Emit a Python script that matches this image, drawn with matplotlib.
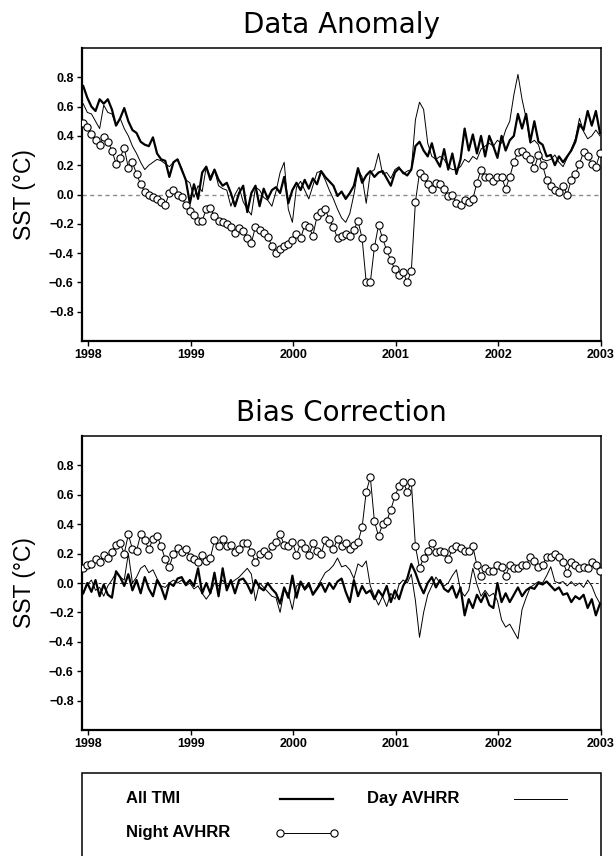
import numpy as np
import matplotlib
matplotlib.use("Agg")
import matplotlib.pyplot as plt
from matplotlib.lines import Line2D
from matplotlib.patches import Rectangle

# samples every 0.04 yr starting at 1997.95 (25 per row = one year)
start_year = 1997.95
step = 0.04

# ---- Data Anomaly panel ----
anom_tmi = (
    [0.74, 0.66, 0.60, 0.57, 0.65, 0.62, 0.65, 0.58, 0.47, 0.52, 0.59, 0.50, 0.44,
     0.42, 0.36, 0.34, 0.33, 0.39, 0.28, 0.24, 0.23, 0.12, 0.22, 0.24, 0.17]
    + [0.10, -0.06, 0.07, -0.03, 0.15, 0.19, 0.10, 0.17, 0.10, 0.06, 0.08, 0.01, -0.08,
       0.01, 0.06, -0.12, 0.01, 0.06, -0.08, 0.04, -0.03, 0.03, 0.05, 0.01, 0.12]
    + [-0.06, 0.03, 0.08, 0.03, 0.10, 0.04, 0.11, 0.07, 0.16, 0.12, 0.09, 0.06, -0.01,
       0.02, -0.03, 0.01, 0.06, 0.18, 0.08, 0.13, 0.16, 0.12, 0.15, 0.16, 0.11]
    + [0.06, 0.15, 0.18, 0.15, 0.13, 0.17, 0.33, 0.36, 0.30, 0.26, 0.35, 0.24, 0.19,
       0.31, 0.17, 0.28, 0.14, 0.24, 0.45, 0.30, 0.41, 0.28, 0.40, 0.26, 0.40]
    + [0.33, 0.25, 0.40, 0.30, 0.37, 0.40, 0.55, 0.45, 0.55, 0.36, 0.50, 0.36, 0.34,
       0.26, 0.27, 0.20, 0.26, 0.22, 0.26, 0.30, 0.36, 0.48, 0.44, 0.57, 0.47]
    + [0.57, 0.42]
)
anom_day = (
    [0.62, 0.56, 0.55, 0.50, 0.45, 0.61, 0.56, 0.55, 0.47, 0.52, 0.45, 0.40, 0.33,
     0.28, 0.22, 0.17, 0.20, 0.22, 0.24, 0.23, 0.21, 0.19, 0.22, 0.24, 0.18]
    + [0.10, 0.08, -0.02, 0.06, 0.02, 0.19, 0.12, 0.17, 0.06, 0.04, 0.03, -0.08, 0.00,
       0.05, -0.05, -0.10, -0.14, 0.05, 0.03, -0.02, -0.04, -0.08, 0.02, 0.15, 0.22]
    + [-0.10, -0.19, 0.05, 0.09, 0.03, -0.03, 0.06, 0.15, 0.16, 0.10, 0.03, -0.03, -0.10,
       -0.16, -0.19, -0.13, 0.00, 0.17, 0.12, -0.06, 0.15, 0.17, 0.28, 0.14, 0.15]
    + [0.11, 0.17, 0.19, 0.14, 0.16, 0.17, 0.51, 0.63, 0.58, 0.35, 0.26, 0.24, 0.26,
       0.24, 0.19, 0.17, 0.17, 0.19, 0.24, 0.22, 0.26, 0.24, 0.31, 0.33, 0.35]
    + [0.33, 0.37, 0.35, 0.44, 0.50, 0.68, 0.82, 0.65, 0.52, 0.35, 0.37, 0.34, 0.24,
       0.23, 0.24, 0.27, 0.22, 0.19, 0.25, 0.31, 0.38, 0.52, 0.43, 0.38, 0.40]
    + [0.44, 0.40]
)
anom_night = (
    [0.49, 0.46, 0.41, 0.37, 0.34, 0.39, 0.36, 0.30, 0.21, 0.25, 0.32, 0.18, 0.22,
     0.14, 0.07, 0.02, 0.00, -0.02, -0.03, -0.05, -0.07, 0.01, 0.03, 0.00, -0.02]
    + [-0.07, -0.11, -0.14, -0.18, -0.18, -0.10, -0.09, -0.15, -0.18, -0.19, -0.20, -0.22, -0.26,
       -0.23, -0.25, -0.30, -0.33, -0.22, -0.24, -0.26, -0.29, -0.35, -0.40, -0.37, -0.35]
    + [-0.34, -0.31, -0.27, -0.30, -0.21, -0.22, -0.28, -0.15, -0.12, -0.10, -0.17, -0.22, -0.30,
       -0.28, -0.27, -0.28, -0.24, -0.18, -0.30, -0.60, -0.60, -0.36, -0.21, -0.30, -0.38]
    + [-0.45, -0.51, -0.55, -0.53, -0.60, -0.52, -0.05, 0.15, 0.12, 0.07, 0.04, 0.08, 0.07,
       0.04, -0.01, 0.00, -0.06, -0.07, -0.04, -0.05, -0.03, 0.08, 0.17, 0.12, 0.12]
    + [0.09, 0.12, 0.12, 0.04, 0.12, 0.22, 0.29, 0.30, 0.27, 0.24, 0.18, 0.27, 0.20,
       0.10, 0.06, 0.03, 0.02, 0.06, 0.00, 0.10, 0.14, 0.21, 0.29, 0.26, 0.21]
    + [0.19, 0.28]
)

# ---- Bias Correction panel ----
bias_tmi = (
    [-0.07, 0.00, -0.06, 0.02, -0.09, -0.01, -0.08, -0.10, 0.08, 0.04, -0.02, 0.06, -0.05,
     0.02, -0.07, 0.04, -0.04, -0.09, 0.02, -0.03, -0.11, 0.00, -0.02, 0.03, 0.04]
    + [-0.01, 0.02, -0.02, 0.10, -0.07, 0.00, -0.07, 0.07, -0.09, 0.10, -0.05, 0.02, -0.07,
       0.02, 0.03, -0.01, -0.07, 0.02, -0.03, -0.05, 0.00, -0.04, -0.07, -0.14, -0.03]
    + [-0.10, 0.05, -0.10, 0.01, -0.04, 0.00, -0.08, -0.04, 0.00, -0.06, 0.00, -0.04, 0.01,
       0.03, -0.06, -0.13, 0.02, -0.09, -0.02, -0.07, -0.05, -0.11, -0.05, -0.09, -0.02]
    + [-0.13, -0.05, -0.11, -0.02, 0.03, 0.13, 0.07, -0.01, -0.07, 0.00, 0.04, -0.03, 0.02,
       -0.04, -0.06, -0.02, -0.10, -0.03, -0.22, -0.11, -0.17, -0.08, -0.13, -0.07, -0.15]
    + [-0.17, 0.00, -0.13, -0.07, -0.13, -0.08, -0.03, -0.09, -0.05, -0.03, -0.04, 0.00, -0.01,
       0.01, -0.02, -0.05, -0.03, -0.08, -0.07, -0.13, -0.09, -0.11, -0.08, -0.17, -0.11]
    + [-0.22, -0.14]
)
bias_day = (
    [-0.07, -0.01, 0.02, -0.05, -0.03, -0.09, -0.02, 0.02, 0.07, 0.04, 0.02, 0.20, 0.00,
     0.04, 0.10, 0.12, 0.07, 0.09, 0.03, -0.02, -0.03, 0.00, 0.02, 0.00, 0.02]
    + [-0.02, 0.00, -0.04, -0.02, -0.07, -0.11, -0.07, 0.00, -0.02, 0.02, -0.02, 0.00, 0.02,
       0.04, 0.07, 0.10, 0.06, -0.12, 0.00, -0.03, -0.06, -0.09, -0.10, -0.20, -0.05]
    + [-0.07, -0.18, -0.02, 0.00, -0.05, -0.02, -0.07, -0.03, 0.02, 0.07, 0.09, 0.12, 0.17,
       0.11, 0.12, 0.09, 0.03, 0.13, 0.11, 0.15, -0.02, -0.09, -0.15, -0.09, -0.16]
    + [-0.07, -0.11, -0.01, 0.02, 0.00, 0.06, -0.12, -0.37, -0.20, -0.08, -0.02, 0.04, 0.00,
       -0.02, 0.00, 0.05, 0.09, -0.05, -0.09, -0.05, 0.10, -0.01, -0.09, -0.05, -0.09]
    + [-0.07, -0.12, -0.25, -0.30, -0.28, -0.33, -0.38, -0.18, -0.10, -0.03, -0.01, 0.01, 0.00,
       0.05, 0.11, 0.01, 0.00, 0.01, -0.02, 0.01, -0.02, 0.00, -0.03, 0.02, -0.02]
    + [-0.09, -0.14]
)
bias_night = (
    [0.10, 0.12, 0.13, 0.16, 0.14, 0.19, 0.17, 0.21, 0.26, 0.27, 0.20, 0.33, 0.23,
     0.22, 0.33, 0.29, 0.23, 0.30, 0.32, 0.25, 0.16, 0.11, 0.20, 0.24, 0.21]
    + [0.23, 0.18, 0.16, 0.14, 0.19, 0.15, 0.17, 0.29, 0.25, 0.30, 0.25, 0.26, 0.21,
       0.23, 0.27, 0.27, 0.21, 0.14, 0.20, 0.22, 0.19, 0.25, 0.28, 0.33, 0.26]
    + [0.25, 0.28, 0.19, 0.27, 0.24, 0.19, 0.27, 0.22, 0.20, 0.29, 0.27, 0.23, 0.30,
       0.25, 0.27, 0.23, 0.26, 0.28, 0.38, 0.62, 0.72, 0.42, 0.32, 0.40, 0.42]
    + [0.50, 0.59, 0.66, 0.69, 0.62, 0.69, 0.25, 0.10, 0.17, 0.22, 0.27, 0.21, 0.22,
       0.21, 0.16, 0.23, 0.25, 0.24, 0.22, 0.22, 0.25, 0.12, 0.05, 0.10, 0.08]
    + [0.08, 0.12, 0.11, 0.05, 0.12, 0.10, 0.10, 0.12, 0.12, 0.18, 0.15, 0.11, 0.12,
       0.18, 0.18, 0.20, 0.18, 0.14, 0.07, 0.14, 0.12, 0.10, 0.11, 0.10, 0.14]
    + [0.12, 0.08]
)

year_ticks = [1998, 1999, 2000, 2001, 2002, 2003]
sst_ticks = [-0.8, -0.6, -0.4, -0.2, 0.0, 0.2, 0.4, 0.6, 0.8]
series_labels = ["All TMI", "Day AVHRR", "Night AVHRR"]

t = start_year + step * np.arange(len(anom_tmi))

W, H = 616, 856
fig = plt.figure(figsize=(W / 100, H / 100), dpi=100)


def fx(px):
    return px / W


def fy(py):
    return 1 - py / H


tmi_style = dict(color="black", lw=1.6)
day_style = dict(color="black", lw=0.7)
night_style = dict(color="black", lw=0.7, marker="o", ms=5.2, mfc="white",
                   mec="black", mew=0.8)


def panel(top_px, bottom_px, tmi, day, night, title, zero_color, zero_lw):
    ax = fig.add_axes([fx(82), fy(bottom_px), fx(601) - fx(82),
                       (bottom_px - top_px) / H])
    ax.axhline(0, color=zero_color, lw=zero_lw, dashes=(3, 2.5), zorder=1)
    ax.plot(t, day, zorder=2, **day_style)
    ax.plot(t, tmi, zorder=3, **tmi_style)
    ax.plot(t, night, zorder=4, **night_style)
    ax.set_xlim(1997.938, 2003.0)
    ax.set_ylim(-1.0, 1.0)
    ax.set_xticks(year_ticks, labels=[str(y) for y in year_ticks],
                  fontweight="bold", fontsize=9, family="Liberation Sans")
    ax.set_yticks(sst_ticks, labels=[f"{v:.1f}".replace("-", "\u2212") for v in sst_ticks],
                  fontweight="bold", fontsize=9, family="Liberation Sans")
    ax.tick_params(direction="out", length=3.5, width=1.0, pad=2.5)
    for side in ("left", "bottom"):
        ax.spines[side].set_linewidth(1.6)
    for side in ("top", "right"):
        ax.spines[side].set_linewidth(1.1)
    fig.text(fx(341.5), fy(top_px - 15), title, ha="center", va="baseline",
             fontsize=20, family="DejaVu Sans")
    fig.text(fx(24), fy((top_px + bottom_px) / 2), "SST (\u00b0C)", rotation=90,
             ha="center", va="center", fontsize=16.5, family="Liberation Sans")
    return ax


panel(48, 341, anom_tmi, anom_day, anom_night, "Data Anomaly", "0.55", 1.0)
panel(436, 730, bias_tmi, bias_day, bias_night, "Bias Correction", "0.15", 0.7)

# legend box (runs off the bottom of the page)
fig.add_artist(Rectangle((fx(82), -0.1), fx(601) - fx(82), fy(773) + 0.1,
                         transform=fig.transFigure, fill=False, lw=1.1,
                         edgecolor="black", clip_on=False))

leg_font = dict(fontsize=12, fontweight="bold", family="Liberation Sans",
                va="baseline", ha="left")
fig.text(fx(126), fy(803), series_labels[0], **leg_font)
fig.text(fx(367), fy(803), series_labels[1], **leg_font)
fig.text(fx(126), fy(837), series_labels[2], **leg_font)
fig.add_artist(Line2D([fx(280), fx(333)], [fy(798.5)] * 2,
                      transform=fig.transFigure, **tmi_style))
fig.add_artist(Line2D([fx(514), fx(567)], [fy(798.5)] * 2,
                      transform=fig.transFigure, **day_style))
fig.add_artist(Line2D([fx(280), fx(334)], [fy(833)] * 2,
                      transform=fig.transFigure, **night_style))

fig.savefig("out.png", dpi=100)
